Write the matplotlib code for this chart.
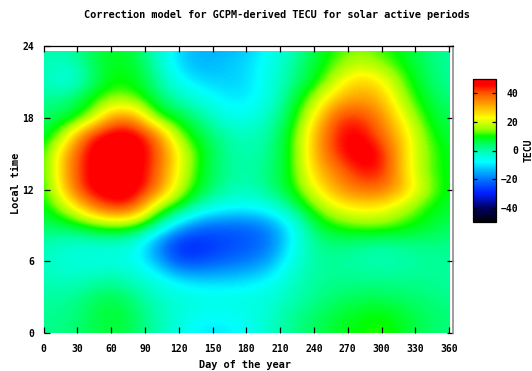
"""GCPM TECU correction model map"""

import numpy as np
import matplotlib
matplotlib.use("Agg")
import matplotlib.pyplot as plt
from matplotlib.colors import LinearSegmentedColormap
from matplotlib.patches import Rectangle

plt.rcParams["font.family"] = "DejaVu Sans Mono"
plt.rcParams["font.weight"] = "bold"

# grid: columns = day of year, rows = local time
days = np.arange(0, 361, 20)
hours = np.arange(0, 24.1, 1.5)
tecu = np.array([
    [2, 3, 5, 7, 5, 0, -5, -10, -10, -7, -2, 2, 5, 8, 10, 12, 8, 4, 3],
    [2, 2, 5, 8, 5, 0, -4, -7, -7, -6, -3, 2, 4, 7, 9, 10, 7, 5, 3],
    [1, 1, 4, 6, 3, -2, -4, -5, -5, -5, -4, -1, 2, 4, 5, 5, 4, 3, 2],
    [-1, -2, -1, 1, -2, -5, -10, -12, -12, -11, -8, -2, 1, 2, 2, 2, 2, 2, 1],
    [-2, -4, -5, -5, -6, -14, -26, -25, -22, -20, -16, -5, 1, 1, 0, -1, 0, 1, 1],
    [0, -3, -3, -3, -5, -18, -30, -29, -26, -24, -21, -8, 2, 3, 2, 1, 2, 3, 2],
    [5, 6, 10, 14, 12, 2, -13, -21, -22, -22, -18, -8, 6, 11, 14, 14, 11, 8, 5],
    [8, 18, 34, 45, 42, 16, 8, -2, -6, -7, -5, 3, 13, 22, 25, 24, 17, 10, 7],
    [9, 31, 48, 50, 50, 38, 18, 7, 1, -2, 3, 9, 22, 33, 38, 38, 30, 16, 8],
    [10, 33, 48, 50, 50, 40, 21, 8, 2, 0, 3, 10, 28, 36, 45, 45, 26, 13, 8],
    [10, 32, 48, 50, 50, 42, 22, 9, 2, -1, 2, 10, 30, 44, 50, 46, 26, 14, 8],
    [6, 19, 44, 50, 50, 38, 14, 6, 1, -2, 1, 10, 30, 45, 48, 38, 26, 12, 6],
    [4, 6, 12, 34, 34, 11, 7, 2, -5, -6, -1, 7, 24, 42, 43, 35, 21, 9, 5],
    [2, 3, 9, 15, 14, 5, 0, -5, -9, -10, -4, 5, 17, 30, 33, 30, 15, 7, 3],
    [-1, -6, 2, 10, 9, 2, -7, -11, -12, -11, -5, 2, 8, 20, 29, 24, 12, 5, 1],
    [0, -3, 4, 9, 8, 0, -12, -15, -13, -11, -6, 1, 7, 13, 18, 14, 9, 4, 1],
    [0, 1, 5, 8, 6, -3, -11, -14, -14, -13, -7, -2, 6, 11, 14, 11, 8, 3, 1],
])
xticks = np.arange(0, 361, 30)
yticks = [0, 6, 12, 18, 24]
cbar_ticks = [-40, -20, 0, 20, 40]

# colour palette similar to the gnuplot one
stops = [(-50, (0, 0, 0)), (-40, (0, 0, 0.4)), (-30, (0, 0.12, 1)),
         (-26, (0, 0.25, 1)), (-20, (0, 0.47, 1)), (-14, (0, 0.72, 1)),
         (-8, (0, 1, 1)), (-3, (0, 1, 0.82)), (1, (0, 1, 0.62)), (5, (0, 1, 0.35)),
         (10, (0, 1, 0)), (15, (0.6, 1, 0)), (23, (1, 1, 0)),
         (32, (1, 0.65, 0)), (40, (1, 0.35, 0)), (46, (1, 0, 0)), (50, (1, 0, 0))]
cmap = LinearSegmentedColormap.from_list("gp", [((v + 50) / 100, c) for v, c in stops])

fig = plt.figure(figsize=(5.32, 3.71), dpi=100)
ax = fig.add_axes([43.5 / 532, 38 / 371, 409 / 532, 287 / 371])

dx = days[1] - days[0]
dy = hours[1] - hours[0]
im = ax.imshow(tecu, origin="lower", cmap=cmap, vmin=-50, vmax=50,
               extent=(days[0] - dx / 2, days[-1] + dx / 2, hours[0] - dy / 2, hours[-1] + dy / 2),
               aspect="auto", interpolation="bicubic", interpolation_stage="data")
im.set_clip_path(Rectangle((0, 0), 360, 23.6, transform=ax.transData))

ax.set_xlim(0, 363)
ax.set_ylim(0, 24)
ax.set_xticks(xticks)
ax.set_yticks(yticks)
ax.tick_params(direction="in", length=4, width=0.9, top=True, right=True,
               labelsize=7, colors="black")
ax.tick_params(axis="x", pad=8)
ax.tick_params(axis="y", pad=7)
for lab in ax.get_xticklabels() + ax.get_yticklabels():
    lab.set_fontweight("bold")
ax.spines["left"].set_visible(False)
ax.spines["bottom"].set_visible(False)
ax.spines["top"].set_linewidth(0.9)
ax.spines["right"].set_color("0.55")
ax.spines["right"].set_linewidth(1.2)

fig.text(276.5 / 532, 1 - 15 / 371, "Correction model for GCPM-derived TECU for solar active periods",
         ha="center", va="center", fontsize=7.4, fontweight="bold")
fig.text(245 / 532, 1 - 365 / 371, "Day of the year", ha="center", va="center",
         fontsize=7.4, fontweight="bold")
fig.text(16 / 532, 1 - 183 / 371, "Local time", ha="center", va="center",
         rotation=90, fontsize=7.4, fontweight="bold")

cax = fig.add_axes([473 / 532, 1 - 222 / 371, 23 / 532, 143 / 371])
cb = fig.colorbar(im, cax=cax, ticks=cbar_ticks)
cb.outline.set_linewidth(0.9)
cax.tick_params(direction="in", length=3, width=0.9, left=True, right=True,
                labelsize=7, pad=16)
for lab in cax.get_yticklabels():
    lab.set_horizontalalignment("right")
    lab.set_fontweight("bold")
fig.text(528.3 / 532, 1 - 150.5 / 371, "TECU", ha="center", va="center",
         rotation=90, fontsize=7, fontweight="bold")

fig.savefig("out.png", dpi=100)
